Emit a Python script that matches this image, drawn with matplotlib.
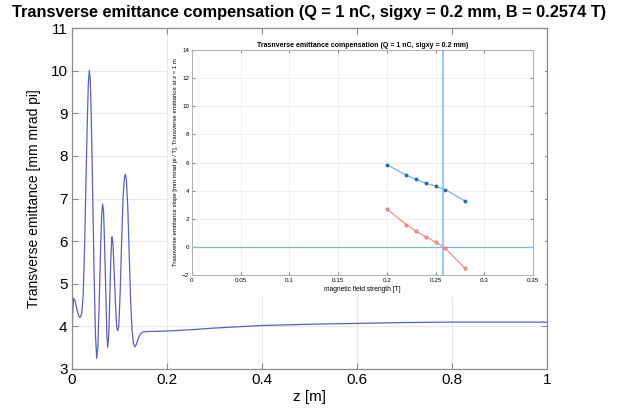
import matplotlib
matplotlib.use("Agg")
import matplotlib.pyplot as plt

plt.rcParams['font.family'] = ['Liberation Sans', 'DejaVu Sans']

# Main curve: emittance along z
z_pos = [0.000, 0.002, 0.004, 0.007, 0.011, 0.015, 0.018, 0.021, 0.024, 0.027,
         0.030, 0.033, 0.035, 0.037, 0.039, 0.041, 0.044, 0.047, 0.050, 0.0526,
         0.055, 0.058, 0.061, 0.063, 0.065, 0.067, 0.069, 0.072, 0.074, 0.0758,
         0.078, 0.080, 0.082, 0.084, 0.085, 0.087, 0.090, 0.093, 0.095, 0.097,
         0.099, 0.102, 0.105, 0.108, 0.111, 0.113, 0.115, 0.118, 0.121, 0.124,
         0.127, 0.130, 0.133, 0.136, 0.140, 0.145, 0.150, 0.160, 0.200, 0.250,
         0.300, 0.400, 0.500, 0.600, 0.700, 0.800, 0.900, 1.000]
emittance = [3.29, 4.30, 4.66, 4.60, 4.40, 4.24, 4.21, 4.30, 4.70, 5.80,
             7.40, 8.90, 9.70, 10.0, 9.80, 9.00, 7.20, 5.30, 3.80, 3.25,
             3.50, 4.60, 5.90, 6.60, 6.87, 6.70, 6.00, 4.70, 3.80, 3.51,
             3.80, 4.60, 5.50, 6.00, 6.10, 5.90, 5.10, 4.30, 3.95, 3.90,
             4.00, 4.80, 6.00, 7.00, 7.50, 7.57, 7.45, 6.80, 5.70, 4.60,
             3.90, 3.60, 3.52, 3.58, 3.72, 3.83, 3.87, 3.88, 3.89, 3.92,
             3.96, 4.02, 4.05, 4.07, 4.09, 4.10, 4.10, 4.10]

# Inset: scan over magnetic field
field_B = [0.20, 0.22, 0.23, 0.24, 0.25, 0.26, 0.28]
emit_at_1m = [5.85, 5.09, 4.81, 4.52, 4.31, 4.08, 3.27]
emit_slope = [2.70, 1.58, 1.11, 0.71, 0.35, -0.10, -1.52]
B_opt = 0.2574

main_xticks = [0, 0.2, 0.4, 0.6, 0.8, 1]
main_xlabels = ['0', '0.2', '0.4', '0.6', '0.8', '1']
main_yticks = [3, 4, 5, 6, 7, 8, 9, 10, 11]
inset_xticks = [0, 0.05, 0.1, 0.15, 0.2, 0.25, 0.3, 0.35]
inset_xlabels = ['0', '0.05', '0.1', '0.15', '0.2', '0.25', '0.3', '0.35']
inset_yticks = [-2, 0, 2, 4, 6, 8, 10, 12, 14]

W, H = 620, 418
fig = plt.figure(figsize=(6.2, 4.18), dpi=100)

def rect(x0, y0, x1, y1):
    return [x0 / W, 1 - y1 / H, (x1 - x0) / W, (y1 - y0) / H]

spine_c = '#8c8c8c'
grid_c = '#e8e8e8'

ax = fig.add_axes(rect(71.7, 28, 547, 369))
ax.plot(z_pos, emittance, color='#5a60c0', lw=0.9)
ax.set_xlim(0, 1)
ax.set_ylim(3, 11)
ax.set_xticks(main_xticks)
ax.set_xticklabels(main_xlabels)
ax.set_yticks(main_yticks)
ax.tick_params(direction='in', top=True, right=True, labelsize=11, length=4,
               color=spine_c, pad=3)
for s in ax.spines.values():
    s.set_color(spine_c)
    s.set_linewidth(0.9)
ax.grid(True, color=grid_c, lw=0.8)
ax.set_axisbelow(True)
ax.set_xlabel('z [m]', fontsize=11, labelpad=2)
ax.set_ylabel('Transverse emittance [mm mrad pi]', fontsize=10, labelpad=7)
ax.set_title('Transverse emittance compensation (Q = 1 nC, sigxy = 0.2 mm, B = 0.2574 T)',
             fontsize=11.8, fontweight='bold', pad=8)

# white pasted-image background
bg = fig.add_axes(rect(168, 36, 545, 297))
bg.set_facecolor('white')
bg.set_xticks([])
bg.set_yticks([])
for s in bg.spines.values():
    s.set_visible(False)

ins = fig.add_axes(rect(192, 50, 533, 275))
ins.set_facecolor('white')
ins.axhline(0, color='#7ab8e2', lw=0.9)
ins.axvline(B_opt, color='#8cc6ec', lw=1.3)
ins.plot(field_B, emit_at_1m, color='#78b4e2', lw=0.9, marker='o', ms=1.8,
         mfc='#1f6fb8', mec='#1f6fb8')
ins.plot(field_B, emit_slope, color='#f29090', lw=0.9, marker='o', ms=2.2,
         mfc='#f6b0b0', mec='#e06060', mew=0.6)
ins.set_xlim(0, 0.35)
ins.set_ylim(-2, 14)
ins.set_xticks(inset_xticks)
ins.set_xticklabels(inset_xlabels)
ins.set_yticks(inset_yticks)
ins.tick_params(direction='in', top=True, right=True, labelsize=4.5, length=2,
                color=spine_c, pad=2)
for s in ins.spines.values():
    s.set_color('#b0b0b0')
    s.set_linewidth(0.7)
ins.grid(True, color='#ececec', lw=0.6)
ins.set_axisbelow(True)
ins.set_xlabel('magnetic field strength [T]', fontsize=4.8, labelpad=2)
ins.set_ylabel('Trasnverse emittance slope [mm mrad pi / T], Transverse emittance at z = 1 m',
               fontsize=4.3, labelpad=3)
ins.set_title('Trasnverse emittance compensation (Q = 1 nC, sigxy = 0.2 mm)',
              fontsize=5, fontweight='bold', pad=2)

fig.savefig('out.png', dpi=100, facecolor='white')
